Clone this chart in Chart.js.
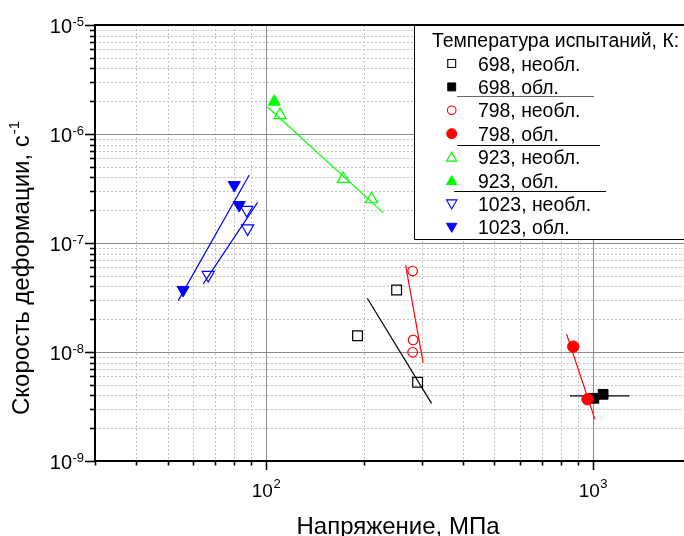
<!DOCTYPE html>
<html>
<head>
<meta charset="utf-8">
<script src="https://cdn.jsdelivr.net/npm/chart.js@4.4.1/dist/chart.umd.min.js"></script>
<style>
  html, body { margin: 0; padding: 0; background: #fff; overflow: hidden; }
  #c { display: block; }
</style>
</head>
<body>
<canvas id="c" width="684" height="536"></canvas>
<script>
// Stress, MPa (x) and creep strain rate, 1/s (y) for every test series
const x698u = [190.6, 251, 291];
const y698u = [1.41e-8, 3.71e-8, 5.27e-9];
const x698c = [1007, 1075];
const y698c = [3.76e-9, 4.09e-9];
const x798u = [281, 282, 281];
const y798u = [5.53e-8, 1.29e-8, 9.94e-9];
const x798c = [871, 963];
const y798c = [1.12e-8, 3.68e-9];
const x923u = [110.4, 172.4, 210.4];
const y923u = [1.49e-6, 3.87e-7, 2.52e-7];
const x923c = [106];
const y923c = [1.98e-6];
const x1023u = [66.6, 87.3, 87.9];
const y1023u = [5.09e-8, 2.01e-7, 1.36e-7];
const x1023c = [55.8, 80.0, 82.8];
const y1023c = [3.71e-8, 3.40e-7, 2.23e-7];

// Power-law fit segments (end points)
const fitX698u = [204.2, 321];
const fitY698u = [3.11e-8, 3.38e-9];
const fitX698c = [851, 1295];
const fitY698c = [3.95e-9, 3.95e-9];
const fitX798u = [267.4, 302.6];
const fitY798u = [6.28e-8, 7.98e-9];
const fitX798c = [831, 1014];
const fitY798c = [1.46e-8, 2.42e-9];
const fitX923 = [100.9, 228.4];
const fitY923 = [1.78e-6, 1.90e-7];
const fitX1023c = [53.9, 88.9];
const fitY1023c = [2.96e-8, 4.21e-7];
const fitX1023u = [64.3, 94.3];
const fitY1023u = [4.21e-8, 2.36e-7];

// Axis ranges and decade tick labels
const xRange = [30, 1900];
const yRange = [1e-9, 1e-5];
const xDecades = [100, 1000];
const xDecadeExp = ['2', '3'];
const yDecades = [1e-5, 1e-6, 1e-7, 1e-8, 1e-9];
const yDecadeExp = ['-5', '-6', '-7', '-8', '-9'];

const legendTitle = 'Температура испытаний, К:';
const xTitle = 'Напряжение, МПа';
const yTitle = 'Скорость деформации, с';
const yTitleExp = '-1';

const FONT = '"Liberation Sans", Arial, Helvetica, sans-serif';
const BLACK = '#000000', RED = '#ff0000', GREEN = '#00ff00', BLUE = '#0000ff';
const CLEAR = 'rgba(0,0,0,0)';

function pts(xs, ys) { return xs.map((x, i) => ({ x: x, y: ys[i] })); }

function markers(label, xs, ys, style, radius, color, filled, order, rotation) {
  return {
    label: label,
    data: pts(xs, ys),
    showLine: false,
    pointStyle: style,
    pointRadius: radius,
    pointHoverRadius: radius,
    pointRotation: rotation || 0,
    pointBorderWidth: filled ? 1 : 1.2,
    borderColor: color,
    backgroundColor: filled ? color : CLEAR,
    pointBackgroundColor: filled ? color : CLEAR,
    pointBorderColor: color,
    order: order,
    isMarker: true,
    filled: filled
  };
}

function fitLine(xs, ys, color) {
  return {
    label: '',
    data: pts(xs, ys),
    showLine: true,
    pointRadius: 0,
    borderColor: color,
    borderWidth: 1.2,
    backgroundColor: CLEAR,
    fill: false,
    order: 100
  };
}

const datasets = [
  markers('698, необл.', x698u, y698u, 'rect', 6.9, BLACK, false, 50),
  markers('698, обл.', x698c, y698c, 'rect', 6.9, BLACK, true, 51),
  markers('798, необл.', x798u, y798u, 'circle', 4.8, RED, false, 40),
  markers('798, обл.', x798c, y798c, 'circle', 5.7, RED, true, 41),
  markers('923, необл.', x923u, y923u, 'triangle', 7, GREEN, false, 30),
  markers('923, обл.', x923c, y923c, 'triangle', 7, GREEN, true, 31),
  markers('1023, необл.', x1023u, y1023u, 'triangle', 7, BLUE, false, 20, 180),
  markers('1023, обл.', x1023c, y1023c, 'triangle', 7, BLUE, true, 21, 180),
  fitLine(fitX698u, fitY698u, BLACK),
  fitLine(fitX698c, fitY698c, BLACK),
  fitLine(fitX798u, fitY798u, RED),
  fitLine(fitX798c, fitY798c, RED),
  fitLine(fitX923, fitY923, GREEN),
  fitLine(fitX1023c, fitY1023c, BLUE),
  fitLine(fitX1023u, fitY1023u, BLUE)
];

// 2..9 multiples inside a log range (grid and minor ticks)
function minorValues(min, max, includeEdges) {
  const out = [];
  const e0 = Math.floor(Math.log10(min)) - 1, e1 = Math.ceil(Math.log10(max));
  for (let e = e0; e <= e1; e++) {
    for (let m = 2; m <= 9; m++) {
      const v = m * Math.pow(10, e);
      const lo = includeEdges ? min * 0.9999 : min * 1.0001;
      const hi = includeEdges ? max * 1.0001 : max * 0.9999;
      if (v >= lo && v <= hi) out.push(v);
    }
  }
  return out;
}

const gridPlugin = {
  id: 'logGrid',
  beforeDatasetsDraw(chart) {
    const { ctx, chartArea: a, scales: { x, y } } = chart;
    ctx.save();
    ctx.beginPath();
    ctx.rect(a.left, a.top, a.right - a.left, a.bottom - a.top);
    ctx.clip();
    ctx.lineWidth = 1;
    ctx.strokeStyle = '#c4c4c4';
    ctx.setLineDash([2, 2]);
    minorValues(xRange[0], xRange[1], false).forEach(v => {
      const px = Math.round(x.getPixelForValue(v)) + 0.5;
      ctx.beginPath(); ctx.moveTo(px, a.top); ctx.lineTo(px, a.bottom); ctx.stroke();
    });
    minorValues(yRange[0], yRange[1], false).forEach(v => {
      const py = Math.round(y.getPixelForValue(v)) + 0.5;
      ctx.beginPath(); ctx.moveTo(a.left, py); ctx.lineTo(a.right, py); ctx.stroke();
    });
    ctx.setLineDash([]);
    ctx.strokeStyle = '#8c8c8c';
    xDecades.forEach(v => {
      const px = Math.round(x.getPixelForValue(v)) + 0.5;
      ctx.beginPath(); ctx.moveTo(px, a.top); ctx.lineTo(px, a.bottom); ctx.stroke();
    });
    yDecades.forEach(v => {
      if (v >= yRange[1] || v <= yRange[0]) return;
      const py = Math.round(y.getPixelForValue(v)) + 0.5;
      ctx.beginPath(); ctx.moveTo(a.left, py); ctx.lineTo(a.right, py); ctx.stroke();
    });
    ctx.restore();
  }
};

function drawMarker(ctx, style, cx, cy, r, color, filled, rot) {
  ctx.save();
  ctx.beginPath();
  if (style === 'rect') {
    const h = r * Math.SQRT1_2;
    ctx.rect(cx - h, cy - h, 2 * h, 2 * h);
  } else if (style === 'circle') {
    ctx.arc(cx, cy, r, 0, Math.PI * 2);
  } else {
    const s = rot === 180 ? -1 : 1;
    ctx.moveTo(cx, cy - s * r);
    ctx.lineTo(cx + r * 0.866, cy + s * r * 0.5);
    ctx.lineTo(cx - r * 0.866, cy + s * r * 0.5);
    ctx.closePath();
  }
  ctx.lineWidth = filled ? 1 : 1.1;
  ctx.strokeStyle = color;
  if (filled) { ctx.fillStyle = color; ctx.fill(); }
  ctx.stroke();
  ctx.restore();
}

const frame = {
  id: 'frame',
  afterDatasetsDraw(chart) {
    const { ctx, chartArea: a, scales: { x, y } } = chart;
    ctx.save();
    // ticks
    ctx.strokeStyle = '#000';
    ctx.lineWidth = 1.6;
    const isDecade = v => Math.abs(Math.log10(v) - Math.round(Math.log10(v))) < 1e-6;
    const yt = minorValues(yRange[0], yRange[1], true).concat(yDecades);
    yt.forEach(v => {
      const py = Math.round(y.getPixelForValue(v)) + 0.5;
      const len = isDecade(v) ? 10 : 5;
      ctx.beginPath(); ctx.moveTo(a.left - len, py); ctx.lineTo(a.left, py); ctx.stroke();
    });
    const xt = minorValues(xRange[0], xRange[1], true).concat(xDecades);
    xt.forEach(v => {
      const px = Math.round(x.getPixelForValue(v)) + 0.5;
      const len = isDecade(v) ? 9 : 4.5;
      ctx.beginPath(); ctx.moveTo(px, a.bottom); ctx.lineTo(px, a.bottom + len); ctx.stroke();
    });
    // axis lines
    ctx.lineWidth = 2;
    ctx.beginPath();
    ctx.moveTo(a.left, a.top - 1); ctx.lineTo(a.left, a.bottom + 1);
    ctx.moveTo(a.left - 1, a.bottom); ctx.lineTo(chart.width + 2, a.bottom);
    ctx.moveTo(a.left - 1, a.top); ctx.lineTo(chart.width + 2, a.top);
    ctx.stroke();

    // tick labels
    ctx.fillStyle = '#000';
    ctx.textBaseline = 'alphabetic';
    yDecades.forEach((v, i) => {
      const py = y.getPixelForValue(v);
      ctx.font = '20px ' + FONT;
      ctx.textAlign = 'right';
      ctx.fillText('10', 72, py + 7.5);
      ctx.font = '13px ' + FONT;
      ctx.textAlign = 'left';
      ctx.fillText(yDecadeExp[i], 72.5, py + 0.5);
    });
    xDecades.forEach((v, i) => {
      const px = x.getPixelForValue(v);
      ctx.font = '19px ' + FONT;
      const w10 = ctx.measureText('10').width;
      ctx.font = '13px ' + FONT;
      const we = ctx.measureText(xDecadeExp[i]).width;
      const start = px + 0.5 - (w10 + we + 1) / 2;
      ctx.textAlign = 'left';
      ctx.font = '19px ' + FONT;
      ctx.fillText('10', start, 496.5);
      ctx.font = '13px ' + FONT;
      ctx.fillText(xDecadeExp[i], start + w10 + 0.5, 487.5);
    });

    // axis titles
    ctx.font = '24px ' + FONT;
    ctx.textAlign = 'center';
    ctx.fillText(xTitle, 398, 533.5);

    ctx.save();
    ctx.translate(29, 415);
    ctx.rotate(-Math.PI / 2);
    ctx.textAlign = 'left';
    ctx.font = '24px ' + FONT;
    const wy = ctx.measureText(yTitle).width;
    ctx.fillText(yTitle, 0, 0);
    ctx.font = '15px ' + FONT;
    ctx.fillText(yTitleExp, wy + 1, -10);
    ctx.restore();

    // legend box
    const lx = 414, ly = a.top, lb = 239;
    ctx.fillStyle = '#fff';
    ctx.fillRect(lx, ly + 1, chart.width - lx + 2, lb - ly - 1);
    ctx.strokeStyle = '#000';
    ctx.lineWidth = 1;
    ctx.beginPath();
    ctx.moveTo(lx + 0.5, ly); ctx.lineTo(lx + 0.5, lb + 0.5); ctx.lineTo(chart.width + 2, lb + 0.5);
    ctx.stroke();

    ctx.fillStyle = '#000';
    ctx.textAlign = 'left';
    ctx.font = '19.4px ' + FONT;
    ctx.fillText(legendTitle, 432, 46.5);

    const rows = chart.data.datasets.filter(d => d.isMarker);
    rows.forEach((d, i) => {
      const cy = 63.5 + i * 23.4;
      const r = d.pointStyle === 'rect' ? 5.6 : (d.pointStyle === 'circle' ? (d.filled ? 5 : 4.3) : 6);
      drawMarker(ctx, d.pointStyle, 451.7, cy + (d.pointStyle === 'triangle' ? (d.pointRotation === 180 ? -1 : 1) : 0), r, d.pointBorderColor, d.filled, d.pointRotation);
      ctx.fillStyle = '#000';
      ctx.font = '19.4px ' + FONT;
      ctx.fillText(d.label, 478, cy + 7);
    });

    // separators between temperature groups
    ctx.lineWidth = 1;
    ctx.strokeStyle = '#666';
    ctx.beginPath(); ctx.moveTo(457, 96.5); ctx.lineTo(594, 96.5); ctx.stroke();
    ctx.strokeStyle = '#000';
    ctx.beginPath(); ctx.moveTo(457, 145.5); ctx.lineTo(600, 145.5); ctx.stroke();
    ctx.beginPath(); ctx.moveTo(454, 191.5); ctx.lineTo(606, 191.5); ctx.stroke();
    ctx.restore();
  }
};

new Chart(document.getElementById('c'), {
  type: 'scatter',
  data: { datasets: datasets },
  options: {
    responsive: false,
    animation: false,
    devicePixelRatio: 1,
    events: [],
    layout: { autoPadding: false, padding: { left: 95, right: 0, top: 25, bottom: 75 } },
    plugins: { legend: { display: false }, tooltip: { enabled: false } },
    scales: {
      x: { type: 'logarithmic', min: xRange[0], max: xRange[1], display: false },
      y: { type: 'logarithmic', min: yRange[0], max: yRange[1], display: false }
    }
  },
  plugins: [gridPlugin, frame]
});
</script>
</body>
</html>
